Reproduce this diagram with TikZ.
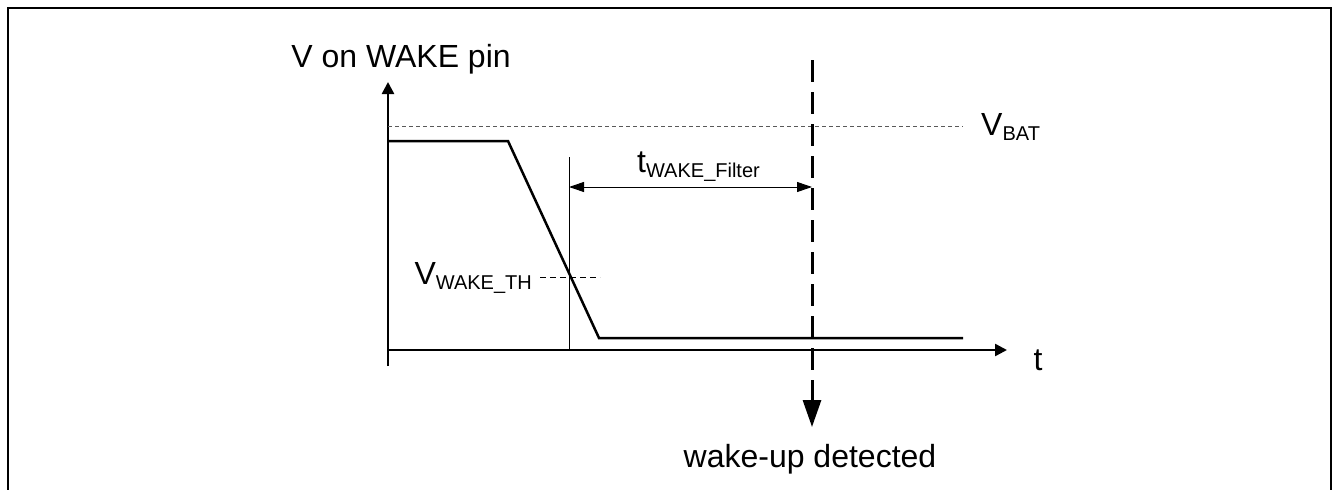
\documentclass[tikz,border=0pt]{standalone}
\usepackage{fontspec}
\setmainfont{Liberation Sans}
\usetikzlibrary{arrows.meta}
\newcommand{\sbs}[1]{\raisebox{-5pt}{\fontsize{20}{20}\selectfont #1}}
\begin{document}
\begin{tikzpicture}[x=1pt,y=-1pt,
  lbl/.style={font=\fontsize{32}{38}\selectfont, inner sep=0pt},
  thick axis/.style={line width=2.5pt},
  sig/.style={line width=2.5pt, line join=miter},
  thin line/.style={line width=1pt},
  fine dash/.style={line width=1pt, draw=black!65, dash pattern=on 4pt off 3pt},
  mid dash/.style={line width=1pt, dash pattern=on 6pt off 4pt},
  big dash/.style={line width=3pt, dash pattern=on 22pt off 10pt},
  ahead/.style={-{Triangle[length=12pt,width=12pt]}},
  dbl/.style={{Triangle[length=15pt,width=10pt]}-{Triangle[length=15pt,width=10pt]}},
  bigtip/.style={-{Triangle[length=27pt,width=18pt]}}
]
\useasboundingbox (0,0) rectangle (1334,490);
% frame
\draw[line width=2pt] (8,490) -- (8,8) -- (1331,8) -- (1331,490);

% coordinates
\coordinate (Ybot) at (388,366);
\coordinate (Ytop) at (388,82);
\coordinate (O) at (388,350);
\coordinate (Xend) at (1007,350);
\coordinate (S0) at (388,141);
\coordinate (S1) at (508,141);
\coordinate (S2) at (599,338);
\coordinate (S3) at (963,338);
\coordinate (B0) at (388,126);
\coordinate (B1) at (963,126);
\coordinate (T0) at (569,157);
\coordinate (T1) at (569,350);
\coordinate (W0) at (540,277);
\coordinate (W1) at (600,277);
\coordinate (A0) at (569,187);
\coordinate (A1) at (812,187);
\coordinate (D0) at (812,60);
\coordinate (D1) at (812,402);
\coordinate (D2) at (812,400);
\coordinate (D3) at (812,427);

% axes
\draw[thick axis, ahead] (Ybot) -- (Ytop);
\draw[thick axis, ahead] (O) -- (Xend);

% VBAT level
\draw[fine dash] (B0) -- (B1);

% signal
\draw[sig] (S0) -- (S1) -- (S2) -- (S3);

% threshold markers
\draw[thin line] (T0) -- (T1);
\draw[mid dash] (W0) -- (W1);
\draw[thin line, dbl] (A0) -- (A1);

% wake-up detection line
\draw[big dash] (D0) -- (D1);
\draw[line width=3pt, bigtip] (D2) -- (D3);

% labels
\node[lbl, anchor=base] (ylab) at (401,67) {V on WAKE pin};
\node[lbl, anchor=base west] (vbat) at (981,135) {V\sbs{BAT}};
\node[lbl, anchor=base] (tlab) at (1038,370) {t};
\node[lbl, anchor=base west] (tfil) at (637,172) {t\sbs{WAKE\_Filter}};
\node[lbl, anchor=base east] (vth) at (532,284) {V\sbs{WAKE\_TH}};
\node[lbl, anchor=base] (wk) at (810,467) {wake-up detected};
\end{tikzpicture}
\end{document}
